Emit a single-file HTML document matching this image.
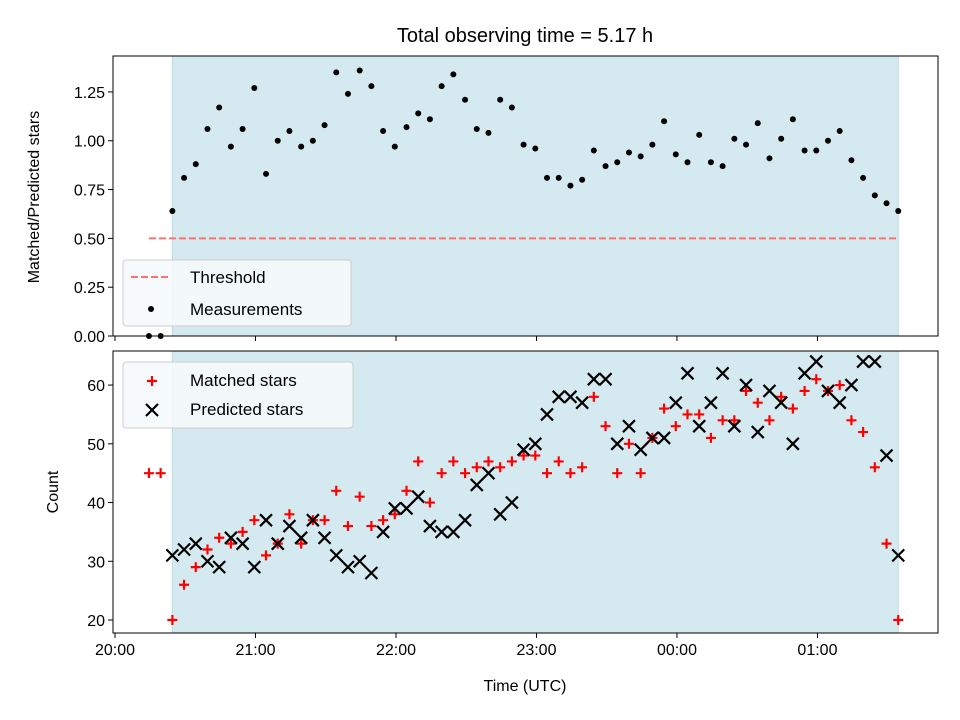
<!DOCTYPE html>
<html><head><meta charset="utf-8"><style>
body{margin:0;background:#fff;}
svg{display:block;font-family:"Liberation Sans","DejaVu Sans",sans-serif;}
</style></head><body>
<svg id="chart" width="960" height="720"></svg>
<script>
const startMin = 14.5; // minutes after 20:00 of first sample
const stepMin = 5;
const ratioValues = [0,0,0.64,0.81,0.88,1.06,1.17,0.97,1.06,1.27,0.83,1.0,1.05,0.97,1.0,1.08,1.35,1.24,1.36,1.28,1.05,0.97,1.07,1.14,1.11,1.28,1.34,1.21,1.06,1.04,1.21,1.17,0.98,0.96,0.81,0.81,0.77,0.80,0.95,0.87,0.89,0.94,0.92,0.98,1.10,0.93,0.89,1.03,0.89,0.87,1.01,0.98,1.09,0.91,1.01,1.11,0.95,0.95,1.0,1.05,0.90,0.81,0.72,0.68,0.64];
const matchedValues = [45,45,20,26,29,32,34,33,35,37,31,33,38,33,37,37,42,36,41,36,37,38,42,47,40,45,47,45,46,47,46,47,48,48,45,47,45,46,58,53,45,50,45,51,56,53,55,55,51,54,54,59,57,54,58,56,59,61,59,60,54,52,46,33,20];
const predictedValues = [null,null,31,32,33,30,29,34,33,29,37,33,36,34,37,34,31,29,30,28,35,39,39,41,36,35,35,37,43,45,38,40,49,50,55,58,58,57,61,61,50,53,49,51,51,57,62,53,57,62,53,60,52,59,57,50,62,64,59,57,60,64,64,48,31];
const threshold = 0.5;
const topTicks = [0,0.25,0.5,0.75,1.0,1.25];
const topTickLabels = ["0.00","0.25","0.50","0.75","1.00","1.25"];
const botTicks = [20,30,40,50,60];
const xTickHours = [0,1,2,3,4,5];
const xTickLabels = ["20:00","21:00","22:00","23:00","00:00","01:00"];

const NS="http://www.w3.org/2000/svg";
const svg=document.getElementById('chart');
function mk(tag,attrs,parent){const e=document.createElementNS(NS,tag);for(const k in attrs)e.setAttribute(k,attrs[k]);(parent||svg).appendChild(e);return e;}
const L=113,R=938;
const xmin=-0.0142,xmax=5.858;
const X=h=>L+(h-xmin)/(xmax-xmin)*(R-L);
const T1=56,B1=336,ymin1=0,ymax1=1.434;
const Y1=v=>B1-(v-ymin1)/(ymax1-ymin1)*(B1-T1);
const T2=351,B2=633,ymin2=17.79,ymax2=65.8;
const Y2=v=>B2-(v-ymin2)/(ymax2-ymin2)*(B2-T2);
const hours=ratioValues.map((_,i)=>(startMin+i*stepMin)/60);
const firstH=hours[2], lastH=hours[hours.length-1];

// title
let t=mk('text',{x:525,y:42,'font-size':20,'text-anchor':'middle',fill:'#000'});t.textContent='Total observing time = 5.17 h';



function panel(T,B,name){
  const g=mk('g',{});
  
  
  mk('rect',{x:L,y:T,width:R-L,height:B-T,fill:'#fff'},g);
  const s=mk('rect',{x:X(firstH),y:T,width:X(lastH)-X(firstH),height:B-T,fill:'#d4eaf0',stroke:'#b9dbe6','stroke-width':1},g);
  
  
  return g;
}
function frame(T,B,g){mk('rect',{x:L,y:T,width:R-L,height:B-T,fill:'none',stroke:'#000','stroke-width':1},g);}
function xticks(B,g,labels){
  xTickHours.forEach((h,i)=>{
    mk('line',{x1:X(h),x2:X(h),y1:B,y2:B+5,stroke:'#000'},g);
    if(labels){const tx=mk('text',{x:X(h),y:B+22,'font-size':16,'text-anchor':'middle'},g);tx.textContent=xTickLabels[i];
      
      }
  });
}

// top panel
const g1=panel(T1,B1,'ratio-panel');
const th=mk('line',{x1:X(hours[0]),x2:X(lastH),y1:Y1(threshold),y2:Y1(threshold),stroke:'#ff7070','stroke-width':2,'stroke-dasharray':'7,3'},g1);


ratioValues.forEach((v,i)=>{
  const c=mk('circle',{cx:X(hours[i]),cy:Y1(v),r:3,fill:'#000'},g1);
  
  
});
frame(T1,B1,g1);
topTicks.forEach((v,i)=>{
  mk('line',{x1:L-5,x2:L,y1:Y1(v),y2:Y1(v),stroke:'#000'},g1);
  const tx=mk('text',{x:L-8,y:Y1(v)+6,'font-size':16,'text-anchor':'end'},g1);tx.textContent=topTickLabels[i];
  
  
});
xticks(B1,g1,false);
t=mk('text',{x:0,y:0,'font-size':16,'text-anchor':'middle',transform:`translate(39,197) rotate(-90)`});t.textContent='Matched/Predicted stars';


// legend top
let lg=mk('g',{});


mk('rect',{x:123,y:260,width:228,height:66,rx:3,fill:'#f6f9fc','fill-opacity':0.9,stroke:'#ccc'},lg);
mk('line',{x1:131,x2:171,y1:277,y2:277,stroke:'#ff7070','stroke-width':2,'stroke-dasharray':'7,3'},lg);
t=mk('text',{x:190,y:283,'font-size':17},lg);t.textContent='Threshold';
mk('circle',{cx:151,cy:309,r:3,fill:'#000'},lg);
t=mk('text',{x:190,y:315,'font-size':17},lg);t.textContent='Measurements';

// bottom panel
const g2=panel(T2,B2,'count-panel');
function plus(x,y,g){const p=mk('path',{d:`M${x-5},${y}H${x+5}M${x},${y-5}V${y+5}`,stroke:'#ff0000','stroke-width':2.2},g);return p;}
function cross(x,y,g){const p=mk('path',{d:`M${x-6},${y-6}L${x+6},${y+6}M${x-6},${y+6}L${x+6},${y-6}`,stroke:'#000','stroke-width':2.2},g);return p;}
matchedValues.forEach((v,i)=>{
  const p=plus(X(hours[i]),Y2(v),g2);
  
  
});
predictedValues.forEach((v,i)=>{
  if(v===null)return;
  const p=cross(X(hours[i]),Y2(v),g2);
  
  
});
frame(T2,B2,g2);
botTicks.forEach(v=>{
  mk('line',{x1:L-5,x2:L,y1:Y2(v),y2:Y2(v),stroke:'#000'},g2);
  const tx=mk('text',{x:L-8,y:Y2(v)+6,'font-size':16,'text-anchor':'end'},g2);tx.textContent=String(v);
  
  
});
xticks(B2,g2,true);
t=mk('text',{x:0,y:0,'font-size':16,'text-anchor':'middle',transform:`translate(58,492) rotate(-90)`});t.textContent='Count';


t=mk('text',{x:525,y:691,'font-size':16,'text-anchor':'middle'});t.textContent='Time (UTC)';


lg=mk('g',{});


mk('rect',{x:123,y:362,width:230,height:66,rx:3,fill:'#f6f9fc','fill-opacity':0.9,stroke:'#ccc'},lg);
plus(152,381,lg);
t=mk('text',{x:190,y:386,'font-size':17},lg);t.textContent='Matched stars';
cross(152,410,lg);
t=mk('text',{x:190,y:415,'font-size':17},lg);t.textContent='Predicted stars';
</script>
</body></html>
